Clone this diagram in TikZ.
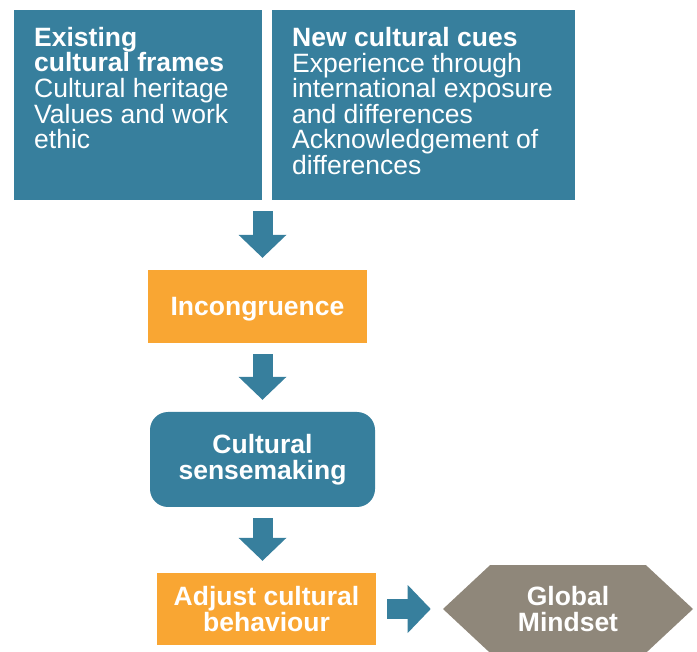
\documentclass[tikz,border=0pt]{standalone}
\usepackage{fontspec}
\setmainfont{Liberation Sans}
\usetikzlibrary{arrows.meta,shapes.symbols}
\definecolor{cueteal}{RGB}{55,127,157}
\definecolor{stageamber}{RGB}{249,166,51}
\definecolor{mindtaupe}{RGB}{143,135,122}
\tikzset{
  cuebox/.style={fill=cueteal, inner sep=0pt, anchor=north west},
  cuetext/.style={text=white, align=left, inner sep=0pt, anchor=north west,
    font=\fontsize{26.5}{25.6}\selectfont},
  stagebox/.style={fill=stageamber, text=white, align=center, inner sep=0pt,
    font=\fontsize{26.5}{26}\selectfont\bfseries},
  flow/.style={cueteal, line width=20pt,
    -{Triangle[width=48pt,length=23pt,line width=0pt]},
    shorten <=11pt, shorten >=12pt},
}

\begin{document}
\begin{tikzpicture}[x=1pt,y=-1pt]
\useasboundingbox (0,0) rectangle (697,652);

% the two input boxes
\node[cuebox, minimum width=248pt, minimum height=190pt] (frames) at (14,10) {};
\node[cuebox, minimum width=303pt, minimum height=190pt] (cues) at (272,10) {};
\node[cuetext] (framestext) at ([shift={(20,17)}]frames.north west)
  {\textbf{Existing}\\\textbf{cultural frames}\\Cultural heritage\\Values and work\\ethic};
\node[cuetext] (cuestext) at ([shift={(20,17)}]cues.north west)
  {\textbf{New cultural cues}\\Experience through\\international exposure\\and differences\\Acknowledgement of\\differences};

% the process column
\node[stagebox, text depth=0pt, minimum width=219pt, minimum height=73pt] (incong) at (257.5,306.5) {Incongruence};
\node[stagebox, fill=cueteal, rounded corners=18pt, minimum width=225pt, minimum height=95pt]
  (sense) at (262.5,459.5) {Cultural\\sensemaking};
\node[stagebox, minimum width=219pt, minimum height=72pt] (adjust) at (266.5,609) {Adjust cultural\\behaviour};
\node[stagebox, fill=mindtaupe, signal, signal to=west and east, signal pointer angle=86,
  minimum width=250pt, minimum height=88pt] (mindset) at (568,609) {Global\\Mindset};

\draw[flow] (frames.south -| sense.north) -- (incong.north -| sense.north);
\draw[flow] (incong.south -| sense.north) -- (sense.north);
\draw[flow] (sense.south) -- (adjust.north -| sense.south);
\draw[flow] (adjust.east) -- (mindset.west);
\end{tikzpicture}
\end{document}
